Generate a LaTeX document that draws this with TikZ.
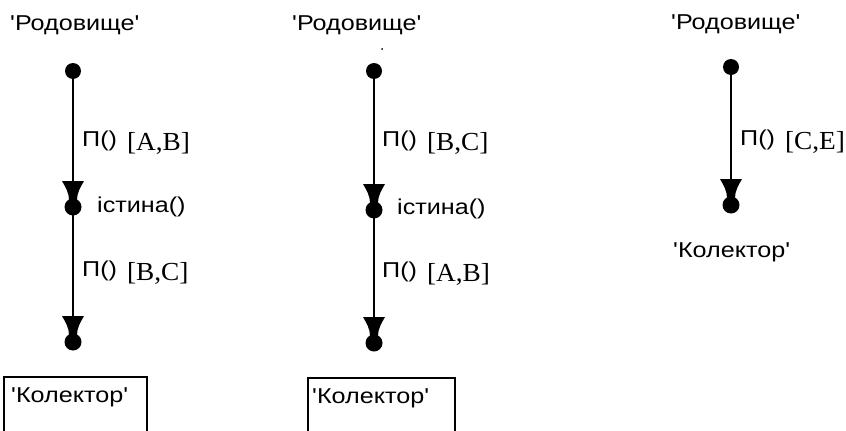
\documentclass[tikz,border=0pt]{standalone}
\usepackage{fontspec}
\newfontfamily\sansf[FakeStretch=1.17]{Liberation Sans}
\newfontfamily\seriff[FakeStretch=1.05]{Liberation Serif}
\newcommand{\plabel}[1]{\raisebox{4pt}{П()}\hspace{10pt}{\seriff\fontsize{26}{26}\selectfont[#1]}}
\tikzset{
  lbl/.style={font=\sansf\fontsize{21.5}{22}\selectfont, inner sep=0pt, anchor=base west},
  dotnode/.style={circle, fill=black, inner sep=0pt, minimum size=16pt},
  wire/.style={line width=2pt},
  boxline/.style={line width=1.6pt},
  spool/.pic={
    \fill[black] (-11,-26) -- (11,-26) .. controls (7,-19) and (4,-14) .. (4,-7)
      -- (-4,-7) .. controls (-4,-14) and (-7,-19) .. (-11,-26) -- cycle;
    \fill[black] (0,0) circle (8.5);
  }
}
\begin{document}
\begin{tikzpicture}[x=1pt,y=-1pt]
\useasboundingbox (0,0) rectangle (846,431);
% ---------- column 1 ----------
\node[lbl] (r1) at (10,30) {'Родовище'};
\node[dotnode] (s1) at (73,71) {};
\pic at (73,207) {spool};
\coordinate (a1) at (73,183);
\coordinate (b1) at (73,207);
\pic at (73,342) {spool};
\coordinate (a2) at (73,318);
\draw[wire] (s1) -- (a1);
\draw[wire] (b1) -- (a2);
\node[lbl] (l11) at (82,150) {\plabel{A,B}};
\node[lbl] (t1) at (97,212) {істина()};
\node[lbl] (l12) at (82,280) {\plabel{B,C}};
\draw[boxline] (4,440) -- (4,377) -- (147,377) -- (147,440);
\node[lbl] (k1) at (11,402) {'Колектор'};
% ---------- column 2 ----------
\node[lbl] (r2) at (292,30) {'Родовище'};
\fill (382,49) circle (1);
\node[dotnode] (s2) at (374,71) {};
\pic at (374,210) {spool};
\coordinate (a3) at (374,186);
\coordinate (b3) at (374,210);
\pic at (374,343) {spool};
\coordinate (a4) at (374,319);
\draw[wire] (s2) -- (a3);
\draw[wire] (b3) -- (a4);
\node[lbl] (l21) at (382,150) {\plabel{B,C}};
\node[lbl] (t2) at (397,214) {істина()};
\node[lbl] (l22) at (382,281) {\plabel{A,B}};
\draw[boxline] (308,440) -- (308,378) -- (455,378) -- (455,440);
\node[lbl] (k2) at (312,403) {'Колектор'};
% ---------- column 3 ----------
\node[lbl] (r3) at (671,29) {'Родовище'};
\node[dotnode] (s3) at (731,67) {};
\pic at (731,205) {spool};
\coordinate (a5) at (731,181);
\draw[wire] (s3) -- (a5);
\node[lbl] (l31) at (740,149) {\plabel{C,E}};
\node[lbl] (k3) at (673,257) {'Колектор'};
\end{tikzpicture}
\end{document}
